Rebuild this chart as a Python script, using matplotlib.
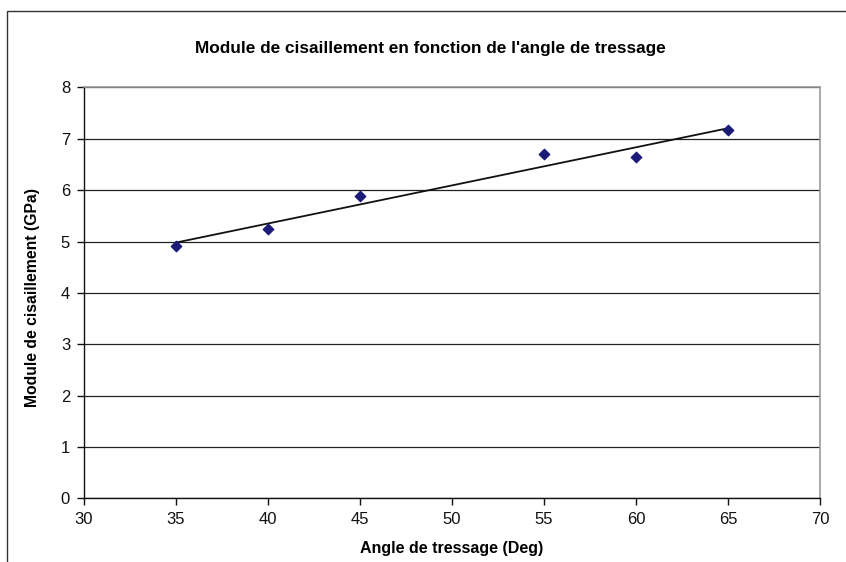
import numpy as np
import matplotlib.pyplot as plt
from matplotlib.patches import Rectangle

plt.rcParams['font.family'] = ['Liberation Sans', 'DejaVu Sans']

# Donnees
angle = [35, 40, 45, 55, 60, 65]
module = [4.92, 5.24, 5.88, 6.70, 6.65, 7.17]

titre = "Module de cisaillement en fonction de l'angle de tressage"
label_x = "Angle de tressage (Deg)"
label_y = "Module de cisaillement (GPa)"

W, H = 846, 562
fig = plt.figure(figsize=(W / 100, H / 100), dpi=100)

# cadre exterieur du graphique (coupe a droite et en bas)
fig.patches.append(Rectangle((7 / W, -0.1), 1.2, 1 - 11 / H + 0.1, transform=fig.transFigure,
                             fill=False, edgecolor='#333333', linewidth=1.0))

left, right, top, bottom = 84, 820, 87.5, 498.3
ax = fig.add_axes([left / W, 1 - bottom / H, (right - left) / W, (bottom - top) / H])

# droite de tendance lineaire
pente, origine = np.polyfit(angle, module, 1)
xs = np.array([min(angle), max(angle)])
ax.plot(xs, pente * xs + origine, color='#111111', linewidth=1.3, zorder=3)

ax.scatter(angle, module, marker='D', s=28, color='#1c1c78', zorder=4)

ax.set_xlim(30, 70)
ax.set_ylim(0, 8)
ax.set_xticks(np.arange(30, 71, 5))
ax.set_yticks(np.arange(0, 9, 1))
ax.yaxis.grid(True, color='#222222', linewidth=0.9)
ax.set_axisbelow(True)

for s in ['top', 'right']:
    ax.spines[s].set_color('#999999')
    ax.spines[s].set_linewidth(1.2)
for s in ['left', 'bottom']:
    ax.spines[s].set_color('#111111')
    ax.spines[s].set_linewidth(1.0)

ax.tick_params(direction='out', length=5, width=1, labelsize=12, colors='#111111', pad=5)

ax.set_xlabel(label_x, fontsize=11.5, fontweight='bold', va='center')
ax.set_ylabel(label_y, fontsize=11.3, fontweight='bold', va='center')
ax.xaxis.set_label_coords((452 - left) / (right - left), (bottom - 549) / (bottom - top))
ax.yaxis.set_label_coords((33 - left) / (right - left), (bottom - 298) / (bottom - top))
fig.text(430 / W, 1 - 48 / H, titre, ha='center', va='center', fontsize=12.4, fontweight='bold')

fig.savefig('out.png', dpi=100)
